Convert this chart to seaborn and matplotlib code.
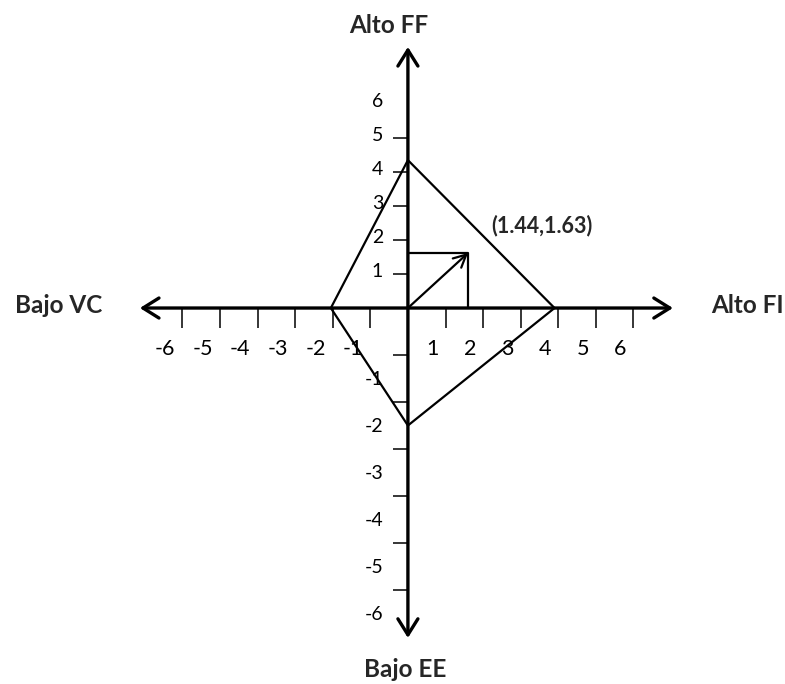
import numpy as np
import matplotlib
matplotlib.use('Agg')
import matplotlib.pyplot as plt
import matplotlib.transforms as mtransforms
import seaborn as sns

sns.set_style('white')
plt.rcParams['font.family'] = ['Lato', 'DejaVu Sans']

# vertices of the quadrilateral (FI, FF, VC, EE)
quad_names = ['Alto FI', 'Alto FF', 'Bajo VC', 'Bajo EE']
quad_x = [3.9, 0, -2.05, 0]
quad_y = [0, 4.35, 0, -2.5]

# resulting vector
vec_x = 1.6
vec_y = 1.62
vec_text = '(1.44,1.63)'

x_ticks = [-6, -5, -4, -3, -2, -1, 1, 2, 3, 4, 5, 6]
y_ticks = [-6, -5, -4, -3, -2, -1, 1, 2, 3, 4, 5, 6]
x_labels = [str(t) for t in x_ticks]
y_labels = [str(t) for t in y_ticks]

# lower half of the drawing is stretched compared to the upper half
neg_stretch = 47 / 34


def fwd(v):
    v = np.asarray(v, dtype=float)
    return np.where(v < 0, v * neg_stretch, v)


def inv(v):
    v = np.asarray(v, dtype=float)
    return np.where(v < 0, v / neg_stretch, v)


fig = plt.figure(figsize=(7.85, 6.84), dpi=100)
ax = fig.add_axes([0, 0, 1, 1])
ax.set_yscale('function', functions=(fwd, inv))
ax.set_xlim(-10.85, 10.03)
ax.set_ylim(-8.0, 9.06)

# axes with arrow heads
ax.annotate('', xy=(7.05, 0), xytext=(-7.13, 0),
            arrowprops=dict(arrowstyle='<->,head_length=1.15,head_width=0.72',
                            lw=2.4, color='black', shrinkA=0, shrinkB=0))
ax.annotate('', xy=(0, 7.68), xytext=(0, -7.02),
            arrowprops=dict(arrowstyle='<->,head_length=1.15,head_width=0.72',
                            lw=2.4, color='black', shrinkA=0, shrinkB=0))

# quadrilateral
poly_x = quad_x + quad_x[:1]
poly_y = quad_y + quad_y[:1]
sns.lineplot(x=poly_x, y=poly_y, sort=False, estimator=None, color='black', lw=1.6, ax=ax)

# box around the vector
sns.lineplot(x=[0, vec_x, vec_x], y=[vec_y, vec_y, 0], sort=False, estimator=None,
             color='black', lw=1.6, ax=ax)
ax.annotate('', xy=(vec_x, vec_y), xytext=(0, 0),
            arrowprops=dict(arrowstyle='->,head_length=0.9,head_width=0.45',
                            lw=1.6, color='black', shrinkA=0, shrinkB=0))
ax.text(3.56, 2.44, vec_text, ha='center', va='center', fontsize=15.5, fontweight='bold')

# axis names
ax.text(9.04, 0.06, quad_names[0], ha='center', va='center', fontsize=17.5, fontweight='bold')
ax.text(-0.5, 8.32, quad_names[1], ha='center', va='center', fontsize=17.5, fontweight='bold')
ax.text(-9.3, 0.06, quad_names[2], ha='center', va='center', fontsize=17.5, fontweight='bold')
ax.text(-0.08, -7.7, quad_names[3], ha='center', va='center', fontsize=17.5, fontweight='bold')

# ticks sitting on the zero lines
for s in ['top', 'right']:
    ax.spines[s].set_visible(False)
ax.spines['left'].set_position(('data', 0))
ax.spines['bottom'].set_position(('data', 0))
ax.spines['left'].set_color('none')
ax.spines['bottom'].set_color('none')

ax.set_xticks(x_ticks, labels=x_labels)
ax.set_yticks(y_ticks, labels=y_labels)
ax.minorticks_off()
ax.tick_params(axis='x', bottom=True, direction='out', length=14.4, width=1.1,
               pad=8, labelsize=15.5, color='black', labelcolor='black')
ax.tick_params(axis='y', left=True, direction='out', length=10.8, width=1.1,
               pad=7, labelsize=14, color='black', labelcolor='black')

for lab in ax.get_xticklabels():
    lab.set_ha('right')
    lab.set_transform(lab.get_transform() +
                      mtransforms.ScaledTranslation(-0.07, 0, fig.dpi_scale_trans))
for t, lab in zip(y_ticks, ax.get_yticklabels()):
    dy = 0.04 if t > 0 else -0.23
    lab.set_transform(lab.get_transform() +
                      mtransforms.ScaledTranslation(0, dy, fig.dpi_scale_trans))

# no mark for the top label
ax.yaxis.get_major_ticks()[-1].tick1line.set_visible(False)

fig.savefig('out.png', dpi=100)
